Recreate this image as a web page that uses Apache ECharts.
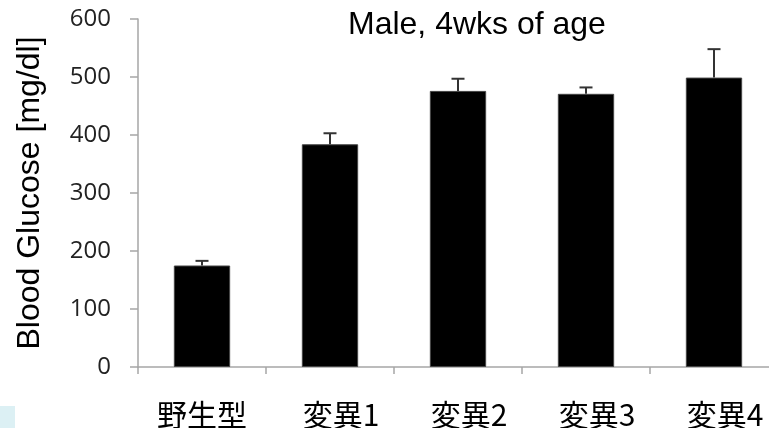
<!DOCTYPE html>
<html lang="ja">
<head>
<meta charset="UTF-8">
<title>Blood Glucose</title>
<script src="https://cdn.jsdelivr.net/npm/echarts@6/dist/echarts.min.js"></script>
<style>
  html, body { margin: 0; padding: 0; background: #fff; }
  #main { width: 769px; height: 428px; }
</style>
</head>
<body>
<div id="main"></div>
<script>
  // data
  var categories = ['野生型', '変異1', '変異2', '変異3', '変異4'];
  var means = [175, 384, 476, 471, 499];
  var errUpper = [183, 403, 497, 482, 548];
  var yTicks = [0, 100, 200, 300, 400, 500, 600];

  var chart = echarts.init(document.getElementById('main'));

  var errData = categories.map(function (c, i) {
    return [i, means[i], errUpper[i]];
  });

  var labelFont = { fontSize: 30, color: '#000', fontFamily: 'Noto Sans CJK JP, sans-serif' };

  chart.setOption({
    animation: false,
    title: {
      text: 'Male, 4wks of age',
      left: 348,
      top: 9,
      padding: 0,
      textStyle: {
        fontFamily: 'Liberation Sans, Arial, sans-serif',
        fontWeight: 'normal',
        fontSize: 32,
        color: '#000'
      }
    },
    grid: { left: 138, right: -9, top: 19, bottom: 61, outerBoundsMode: 'none' },
    xAxis: {
      type: 'category',
      data: categories,
      axisLine: { lineStyle: { color: '#a6a6a6', width: 1.5 } },
      axisTick: { show: true, interval: 0, length: 7, lineStyle: { color: '#a6a6a6', width: 1.5 } },
      axisLabel: {
        interval: 0,
        hideOverlap: false,
        margin: 33,
        fontSize: 30,
        color: '#000',
        fontFamily: 'Noto Sans CJK JP, sans-serif',
        // mutant labels sit a little right of their slot in the original
        formatter: function (v, i) {
          return i === 0 ? '{w|' + v + '}' : '{m|' + v + '}';
        },
        rich: {
          w: labelFont,
          m: Object.assign({ padding: [0, 0, 0, 22] }, labelFont)
        }
      }
    },
    yAxis: {
      type: 'value',
      min: yTicks[0],
      max: yTicks[yTicks.length - 1],
      interval: 100,
      name: 'Blood Glucose [mg/dl]',
      nameLocation: 'middle',
      nameGap: 92,
      nameTextStyle: {
        fontFamily: 'Liberation Sans, Arial, sans-serif',
        fontSize: 32,
        color: '#000'
      },
      splitLine: { show: false },
      axisLine: { show: true, lineStyle: { color: '#a6a6a6', width: 1.5 } },
      axisTick: { show: true, length: 8, lineStyle: { color: '#a6a6a6', width: 1.5 } },
      axisLabel: {
        margin: 27,
        fontSize: 24,
        color: '#222',
        fontFamily: 'Open Sans, sans-serif'
      }
    },
    series: [
      {
        type: 'bar',
        data: means,
        barWidth: '44%',
        itemStyle: { color: '#000', borderColor: '#444', borderWidth: 1 }
      },
      {
        type: 'custom',
        data: errData,
        z: 3,
        renderItem: function (params, api) {
          var x = api.value(0);
          var top = api.coord([x, api.value(2)]);
          var base = api.coord([x, api.value(1)]);
          var half = 6.5;
          var style = { stroke: '#333', lineWidth: 2 };
          return {
            type: 'group',
            children: [
              { type: 'line', shape: { x1: top[0], y1: top[1], x2: base[0], y2: base[1] }, style: style },
              { type: 'line', shape: { x1: top[0] - half, y1: top[1], x2: top[0] + half, y2: top[1] }, style: style }
            ]
          };
        }
      }
    ],
    graphic: [
      { type: 'rect', left: 0, top: 406, shape: { width: 15, height: 22 }, style: { fill: '#dcf0f4' } }
    ]
  });
</script>
</body>
</html>
